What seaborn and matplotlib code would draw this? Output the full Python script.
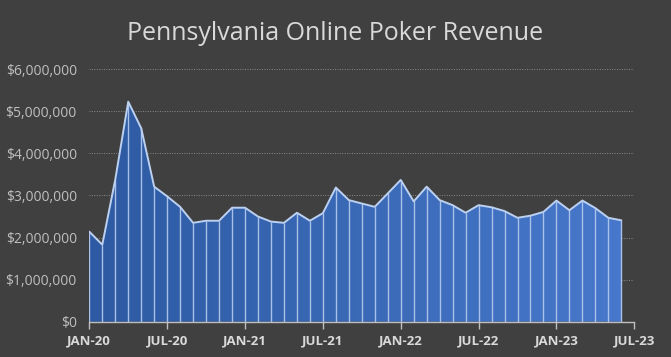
import numpy as np
import pandas as pd
import matplotlib
matplotlib.use("Agg")
import matplotlib.pyplot as plt
from matplotlib.colors import LinearSegmentedColormap
from matplotlib.ticker import FuncFormatter
import seaborn as sns

# ---- data (monthly revenue, Jan 2020 - Jun 2023, USD) ----
revenue_2020 = [2.14, 1.83, 3.38, 5.23, 4.60, 3.21, 2.98, 2.73, 2.35, 2.40, 2.40, 2.71]
revenue_2021 = [2.71, 2.50, 2.38, 2.35, 2.59, 2.40, 2.58, 3.19, 2.89, 2.81, 2.73, 3.05]
revenue_2022 = [3.37, 2.86, 3.21, 2.89, 2.77, 2.59, 2.77, 2.72, 2.63, 2.47, 2.52, 2.61]
revenue_2023 = [2.88, 2.65, 2.88, 2.70, 2.47, 2.41]
revenue_millions = revenue_2020 + revenue_2021 + revenue_2022 + revenue_2023
tick_labels = ["JAN-20", "JUL-20", "JAN-21", "JUL-21", "JAN-22", "JUL-22", "JAN-23", "JUL-23"]
y_ticks = [0, 1_000_000, 2_000_000, 3_000_000, 4_000_000, 5_000_000, 6_000_000]
title = "Pennsylvania Online Poker Revenue"

df = pd.DataFrame({
    "month": np.arange(len(revenue_millions)),
    "revenue": np.array(revenue_millions) * 1_000_000,
})

BG = "#404040"
sns.set_style("dark", {"axes.facecolor": BG, "figure.facecolor": BG})
plt.rcParams["font.family"] = ["Open Sans", "DejaVu Sans"]

fig = plt.figure(figsize=(6.71, 3.57), dpi=100)
fig.patch.set_facecolor(BG)
ax = fig.add_axes([0.1331, 0.0989, 0.9453 - 0.1331, 0.8059 - 0.0989])
ax.set_facecolor(BG)

# gradient-filled area
poly = ax.fill_between(df["month"], 0, df["revenue"], facecolor="none", edgecolor="none", zorder=2)
cmap = LinearSegmentedColormap.from_list("grad", ["#2D5AA2", "#4778CB"])
grad = np.linspace(0, 1, 256).reshape(1, -1)
im = ax.imshow(grad, extent=[df["month"].min(), df["month"].max(), 0, df["revenue"].max()],
               aspect="auto", cmap=cmap, origin="lower", zorder=2, interpolation="bilinear")
path = poly.get_paths()[0]
im.set_clip_path(path, transform=ax.transData)

# drop lines
ax.vlines(df["month"], 0, df["revenue"], colors="#A9C0E8", linewidth=1.0, zorder=3)

# edge line
sns.lineplot(data=df, x="month", y="revenue", ax=ax, color="#BCD0F0", linewidth=1.4, zorder=4)

# axes
ax.set_xlim(0, 42)
ax.set_ylim(0, 6_000_000)
ax.set_xticks(np.arange(0, 43, 6))
ax.set_xticklabels(tick_labels)
ax.set_yticks(y_ticks)
ax.yaxis.set_major_formatter(FuncFormatter(lambda v, p: f"${v:,.0f}"))
ax.set_xlabel("")
ax.set_ylabel("")

ax.grid(False)
ax.yaxis.grid(True, linestyle=(0, (1, 1.5)), color="#8A8A8A", linewidth=0.7, zorder=0)
ax.set_axisbelow(True)

for s in ["top", "right", "left"]:
    ax.spines[s].set_visible(False)
ax.spines["bottom"].set_color("#BFBFBF")
ax.spines["bottom"].set_linewidth(1.0)
ax.spines["bottom"].set_zorder(5)

ax.tick_params(axis="x", which="major", direction="out", length=5, width=1.0,
               color="#BFBFBF", pad=4, labelsize=9.5, labelcolor="#D9D9D9", bottom=True)
ax.tick_params(axis="y", which="major", length=0, pad=9, labelsize=10, labelcolor="#BFBFBF")
for lbl in ax.get_xticklabels():
    lbl.set_fontweight("bold")

fig.text(0.5, 1 - 34 / 357, title, ha="center", va="center",
         fontsize=18, color="#D9D9D9")

fig.savefig("out.png", dpi=100, facecolor=BG)
